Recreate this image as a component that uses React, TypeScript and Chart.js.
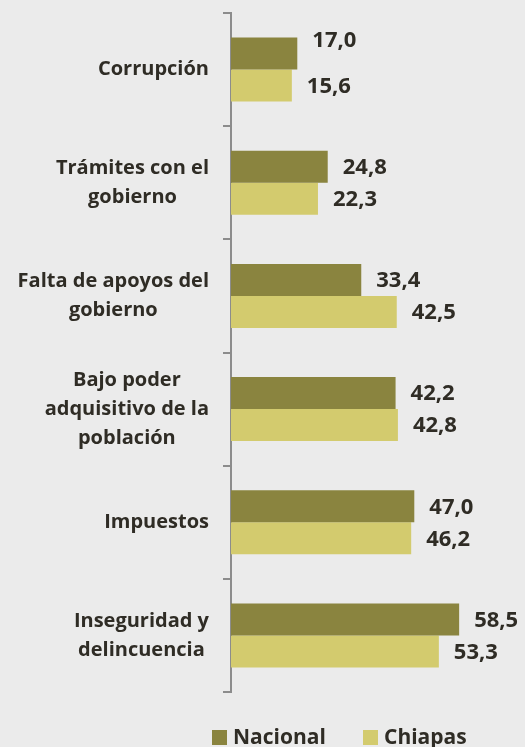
import React, { useEffect, useRef } from "react";
import { Chart, registerables } from "chart.js";

Chart.register(...registerables);

const categories: string[][] = [
  ["Corrupción"],
  ["Trámites con el", "gobierno"],
  ["Falta de apoyos del", "gobierno"],
  ["Bajo poder", "adquisitivo de la", "población"],
  ["Impuestos"],
  ["Inseguridad y", "delincuencia"],
];
const nacional: number[] = [17.0, 24.8, 33.4, 42.2, 47.0, 58.5];
const chiapas: number[] = [15.6, 22.3, 42.5, 42.8, 46.2, 53.3];
const seriesNames = ["Nacional", "Chiapas"];

const COLORS = ["#8A843F", "#D3CB6E"];
const TEXT = "#2F2C25";
const FONT = "'Open Sans', sans-serif";
const BG = "#EBEBEB";

const labelPlugin = {
  id: "customLabels",
  afterDatasetsDraw(chart: any) {
    const ctx = chart.ctx;
    ctx.save();
    ctx.fillStyle = TEXT;
    ctx.font = `bold 22px ${FONT}`;
    ctx.textBaseline = "middle";
    ctx.textAlign = "left";
    chart.data.datasets.forEach((ds: any, di: number) => {
      const meta = chart.getDatasetMeta(di);
      meta.data.forEach((bar: any, i: number) => {
        const v = ds.data[i] as number;
        let dy = 1;
        if (di === 0 && i === 0) dy = -13;
        ctx.fillText(v.toFixed(1).replace(".", ","), bar.x + 15, bar.y + dy);
      });
    });
    // category labels
    const yScale = chart.scales.y;
    ctx.font = `bold 20px ${FONT}`;
    ctx.textAlign = "center";
    const rightEdge = 209;
    const lh = 29;
    categories.forEach((lines, i) => {
      const cy = yScale.getPixelForValue(i);
      const maxW = Math.max(...lines.map((l) => ctx.measureText(l).width));
      const cx = rightEdge - maxW / 2;
      const start = cy - ((lines.length - 1) * lh) / 2;
      lines.forEach((l, li) => ctx.fillText(l, cx, start + li * lh));
    });
    // legend
    ctx.font = `bold 21px ${FONT}`;
    ctx.textAlign = "left";
    const legendY = 737;
    const xs = [212, 363];
    seriesNames.forEach((name, i) => {
      ctx.fillStyle = COLORS[i];
      ctx.fillRect(xs[i], legendY - 7, 15, 15);
      ctx.fillStyle = TEXT;
      ctx.fillText(name, xs[i] + 21, legendY + 1);
    });
    ctx.restore();
  },
};

export default function App() {
  const ref = useRef<HTMLCanvasElement>(null);
  useEffect(() => {
    if (!ref.current) return;
    const chart = new Chart(ref.current, {
      type: "bar",
      data: {
        labels: categories.map((c) => c.join(" ")),
        datasets: [
          {
            label: seriesNames[0],
            data: nacional,
            backgroundColor: COLORS[0],
            categoryPercentage: 0.565,
            barPercentage: 1,
          },
          {
            label: seriesNames[1],
            data: chiapas,
            backgroundColor: COLORS[1],
            categoryPercentage: 0.565,
            barPercentage: 1,
          },
        ],
      },
      options: {
        indexAxis: "y",
        animation: false,
        responsive: false,
        maintainAspectRatio: false,
        layout: { padding: { left: 231, top: 13, bottom: 55, right: 21 } },
        plugins: { legend: { display: false }, tooltip: { enabled: false } },
        scales: {
          x: { display: false, min: 0, max: 70 },
          y: {
            afterFit: (s: any) => {
              s.width = 0;
            },
            ticks: { display: false },
            grid: {
              offset: true,
              drawOnChartArea: false,
              drawTicks: true,
              tickLength: 8,
              color: "#8C8C8C",
              lineWidth: 2,
            },
            border: { display: true, color: "#8C8C8C", width: 2 },
          },
        },
      },
      plugins: [labelPlugin],
    });
    return () => chart.destroy();
  }, []);
  return (
    <div style={{ position: "fixed", left: 0, top: 0, width: 525, height: 747, background: BG }}>
      <canvas ref={ref} width={525} height={747} style={{ display: "block" }} />
    </div>
  );
}
